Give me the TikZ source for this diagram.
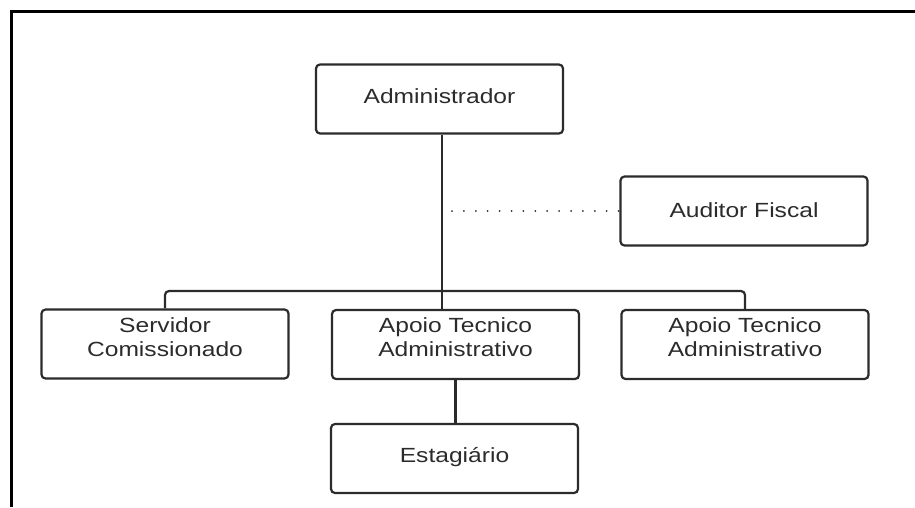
\documentclass[tikz,border=0pt]{standalone}
\usepackage{fontspec}
\setmainfont[FakeStretch=1.2]{Liberation Sans}
\definecolor{ink}{HTML}{2B2B2B}
\begin{document}
\begin{tikzpicture}[x=1pt,y=-1pt,
  box/.style={draw=ink, line width=2.2pt, rounded corners=4pt,
    minimum width=247pt, minimum height=69pt, inner sep=0pt},
  lbl/.style={text=ink, align=center, inner sep=0pt,
    font=\fontsize{20.5}{24}\selectfont},
  link/.style={draw=ink, line width=2.2pt},
  dotline/.style={draw=ink, line width=2pt, line cap=round,
    dash pattern=on 0pt off 11.9pt},
  frame/.style={draw=black, line width=3pt}]
\useasboundingbox (0,0) rectangle (915,507);

% page frame (top and left edges only)
\draw[frame] (11,507) -- (11,11) -- (915,11);

% boxes
\node[box] (admin) at (439.5,99)   {};
\node[box] (aud)   at (744,211)    {};
\node[box] (serv)  at (165,344)    {};
\node[box] (apo1)  at (455.5,344.5) {};
\node[box] (apo2)  at (745,344.5)  {};
\node[box] (estag) at (454.5,458.5) {};

% labels
\node[lbl] (tadmin) at ([yshift=2.5pt]admin.center) {Administrador};
\node[lbl] (taud)   at ([yshift=1pt]aud.center)    {Auditor Fiscal};
\node[lbl] (tserv)  at ([yshift=7pt]serv.center)   {Servidor\\Comissionado};
\node[lbl] (tapo1)  at ([yshift=7pt]apo1.center)   {Apoio Tecnico\\Administrativo};
\node[lbl] (tapo2)  at ([yshift=7pt]apo2.center)   {Apoio Tecnico\\Administrativo};
\node[lbl] (testag) at ([yshift=1pt]estag.center)  {Estagiário};

% connectors
\coordinate (j) at (442,291);
\coordinate (d0) at (452,211);
\draw[link] (admin.south -| j) -- (j);
\draw[link, rounded corners=4pt] (serv.north) |- (j) -| (apo2.north);
\draw[link] (j) -- (j |- apo1.north);
\draw[link] (apo1.south) -- (apo1.south |- estag.north);
\draw[dotline] (d0) -- (aud.west);
\end{tikzpicture}
\end{document}
